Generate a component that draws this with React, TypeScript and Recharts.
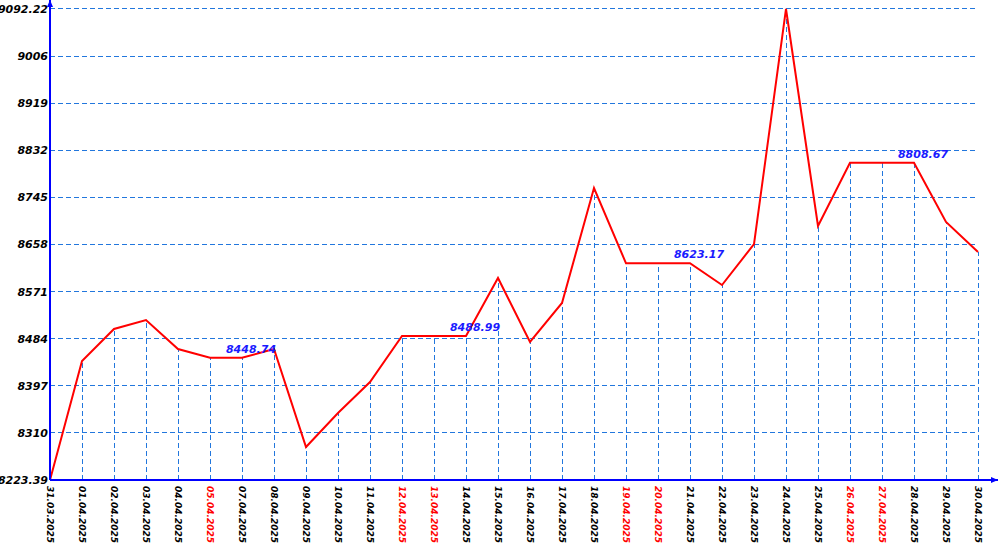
import React from 'react';
import { LineChart, Line, XAxis, YAxis, ReferenceLine, ReferenceDot } from 'recharts';

const dates = [
  '31.03.2025', '01.04.2025', '02.04.2025', '03.04.2025', '04.04.2025', '05.04.2025',
  '07.04.2025', '08.04.2025', '09.04.2025', '10.04.2025', '11.04.2025', '12.04.2025',
  '13.04.2025', '14.04.2025', '15.04.2025', '16.04.2025', '17.04.2025', '18.04.2025',
  '19.04.2025', '20.04.2025', '21.04.2025', '22.04.2025', '23.04.2025', '24.04.2025',
  '25.04.2025', '26.04.2025', '27.04.2025', '28.04.2025', '29.04.2025', '30.04.2025',
];

const weekendDates = ['05.04.2025', '12.04.2025', '13.04.2025', '19.04.2025', '20.04.2025', '26.04.2025', '27.04.2025'];

const values = [
  8223.39, 8442.9, 8501.9, 8518.5, 8465.0, 8448.74,
  8448.74, 8465.0, 8284.3, 8347.0, 8404.2, 8488.99,
  8488.99, 8488.99, 8596.0, 8478.0, 8549.9, 8762.0,
  8623.17, 8623.17, 8623.17, 8583.1, 8658.5, 9092.22,
  8691.9, 8808.67, 8808.67, 8808.67, 8699.3, 8644.0,
];

const yTickLabels = ['8223.39', '8310', '8397', '8484', '8571', '8658', '8745', '8832', '8919', '9006', '9092.22'];

const annotatedIdx = [6, 13, 20, 27];

const Y_MIN = 8223.39;
const Y_MAX = 9092.22;
const Y_TOP = 9108.8;
const X_MAX = 29.625;

const yTicks = yTickLabels.map((_, k) => Y_MIN + ((Y_MAX - Y_MIN) * k) / 10);
const data = dates.map((d, i) => ({ i, date: d, value: values[i] }));

const GRID = '#2277dd';
const AXIS = '#0000ff';
const FONT = '"DejaVu Sans", Verdana, sans-serif';

const XTick = (props: any) => {
  const { x, y, payload } = props;
  const label = dates[payload.value];
  if (!label) return null;
  const red = weekendDates.includes(label);
  return (
    <text
      x={x}
      y={y}
      transform={`rotate(90, ${x}, ${y})`}
      textAnchor="start"
      dy="0.35em"
      fill={red ? '#ff0000' : '#000000'}
      fontSize={9}
      fontWeight="bold"
      fontStyle="italic"
      fontFamily={FONT}
    >
      {label}
    </text>
  );
};

const YTick = (props: any) => {
  const { x, y, index } = props;
  return (
    <text
      x={x}
      y={y}
      textAnchor="end"
      dy="0.36em"
      fill="#000000"
      fontSize={11}
      fontWeight="bold"
      fontStyle="italic"
      fontFamily={FONT}
    >
      {yTickLabels[index]}
    </text>
  );
};

const renderLabel = (props: any) => {
  const { x, y, index, value } = props;
  if (!annotatedIdx.includes(index)) return null;
  return (
    <text
      x={x + 9}
      y={y - 5}
      textAnchor="middle"
      fill="#1a1aff"
      fontSize={11}
      fontWeight="bold"
      fontStyle="italic"
      fontFamily={FONT}
    >
      {Number(value).toFixed(2)}
    </text>
  );
};

const ArrowRight = (props: any) => {
  const { cx, cy } = props;
  return <path d={`M${cx} ${cy} L${cx - 7} ${cy - 3} L${cx - 7} ${cy + 3} Z`} fill={AXIS} />;
};

const ArrowUp = (props: any) => {
  const { cx, cy } = props;
  return <path d={`M${cx} ${cy} L${cx - 3} ${cy + 7} L${cx + 3} ${cy + 7} Z`} fill={AXIS} />;
};

export default function App() {
  return (
    <div style={{ position: 'absolute', left: 0, top: 0, width: 1000, height: 550, background: '#fff' }}>
      <LineChart width={1000} height={550} data={data} margin={{ top: 0, right: 2, bottom: 0, left: 0 }}>
        <XAxis
          dataKey="i"
          type="number"
          domain={[0, X_MAX]}
          ticks={dates.map((_, i) => i)}
          interval={0}
          height={70}
          tickSize={0}
          tickMargin={6}
          tick={<XTick />}
          axisLine={{ stroke: AXIS, strokeWidth: 2 }}
          allowDataOverflow
        />
        <YAxis
          type="number"
          domain={[Y_MIN, Y_TOP]}
          ticks={yTicks}
          interval={0}
          width={50}
          tickSize={0}
          tickMargin={2}
          tick={<YTick />}
          axisLine={{ stroke: AXIS, strokeWidth: 2 }}
          allowDataOverflow
        />
        {yTicks.slice(1).map((t, k) => (
          <ReferenceLine
            key={`h${k}`}
            segment={[{ x: 0, y: t }, { x: dates.length - 1, y: t }]}
            stroke={GRID}
            strokeDasharray="5 3"
            strokeWidth={1}
            shapeRendering="crispEdges"
          />
        ))}
        {data.slice(1).map((d) => (
          <ReferenceLine
            key={`v${d.i}`}
            segment={[{ x: d.i, y: Y_MIN }, { x: d.i, y: d.value }]}
            stroke={GRID}
            strokeDasharray="5 3"
            strokeWidth={1}
            shapeRendering="crispEdges"
          />
        ))}
        <ReferenceDot x={X_MAX} y={Y_MIN} r={0} shape={<ArrowRight />} ifOverflow="visible" />
        <ReferenceDot x={0} y={Y_TOP} r={0} shape={<ArrowUp />} ifOverflow="visible" />
        <Line
          type="linear"
          dataKey="value"
          stroke="#ff0000"
          strokeWidth={2}
          dot={false}
          activeDot={false}
          isAnimationActive={false}
          label={renderLabel}
        />
      </LineChart>
    </div>
  );
}
